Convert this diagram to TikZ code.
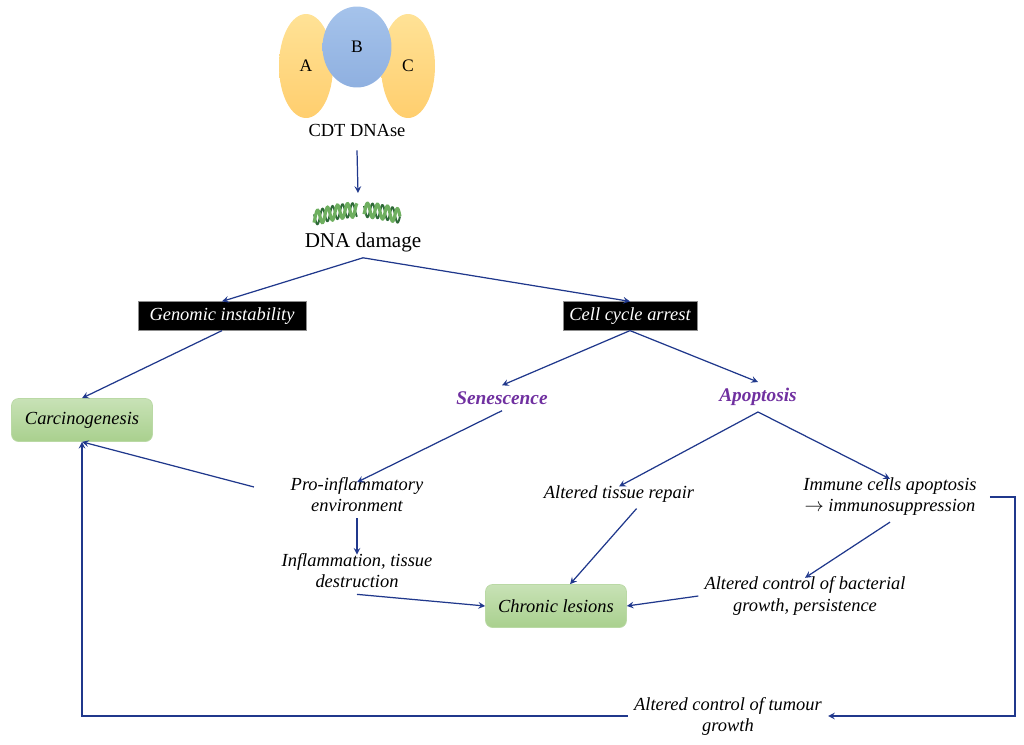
\documentclass[tikz,border=0pt]{standalone}
\usepackage{fontspec}
\setmainfont{Liberation Serif}
\usepackage{tikz}
\usetikzlibrary{arrows,shapes,positioning,shadows}
\usepackage{xcolor}
\definecolor{cdtnavy}{RGB}{32,56,140}
\definecolor{cdtpurple}{RGB}{112,48,160}
\definecolor{cdtgreen}{RGB}{169,208,142}
\definecolor{cdtlightgreen}{RGB}{200,226,182}
\definecolor{cdtorange}{RGB}{255,206,110}
\definecolor{cdtlightorange}{RGB}{255,226,150}
\definecolor{cdtblue}{RGB}{143,176,224}
\definecolor{cdtlightblue}{RGB}{165,195,235}
\definecolor{helixgreen}{RGB}{110,175,95}
\definecolor{helixdark}{RGB}{45,105,55}
\tikzstyle{arrow} = [line width=0.7pt,->,>=stealth,color=cdtnavy]
\tikzstyle{subunit} = [ellipse, top color=cdtlightorange, bottom color=cdtorange, minimum width=1.08cm, minimum height=2.08cm, font=\fontsize{10}{12}\selectfont]
\tikzstyle{blackbox} = [rectangle, minimum height=0.51cm, fill=black, draw=black!45, text=white, font=\fontsize{10.5}{13}\selectfont\itshape]
\tikzstyle{lesionbox} = [rectangle, rounded corners=4pt, minimum width=2.82cm, minimum height=0.86cm, top color=cdtlightgreen, bottom color=cdtgreen, draw=cdtgreen!80!white, font=\fontsize{10.5}{13}\selectfont\itshape]
\tikzstyle{effect} = [align=center, font=\fontsize{10.5}{12}\selectfont\itshape]
\tikzstyle{fate} = [text=cdtpurple, font=\fontsize{11}{13}\selectfont\bfseries\itshape]

\begin{document}
\begin{tikzpicture}[x=0.02cm,y=-0.02cm]
\useasboundingbox (0,0) rectangle (1024,744);

% CDT holotoxin
\node[subunit] (subA) at (306,66) {A};
\node[subunit] (subC) at (408,66) {C};
\node[ellipse, top color=cdtlightblue, bottom color=cdtblue, minimum width=1.38cm, minimum height=1.62cm, font=\fontsize{10}{12}\selectfont] (subB) at (357,47) {B};
\node[font=\fontsize{10.5}{12}\selectfont] (cdt) at (357,130) {CDT DNAse};

% DNA helix
\coordinate (helixtop) at (358,193);
\foreach \xa/\xb in {314/357,364/400}
{
  \draw[helixdark, line width=1.1pt] plot[domain=\xa:\xb, samples=80] (\x, {210+0.004*(\x-360)^2+7*sin((\x-300)*36+180)});
  \draw[helixgreen, line width=1.8pt] plot[domain=\xa:\xb, samples=80] (\x, {210+0.004*(\x-360)^2+7*sin((\x-300)*36)});
}
\node[font=\fontsize{12}{14}\selectfont] (damage) at (363,242) {DNA damage};

% Main branches
\node[blackbox, minimum width=3.36cm] (genomic) at (222,316) {Genomic instability};
\node[blackbox, minimum width=2.68cm] (arrest) at (630,316) {Cell cycle arrest};
\node[lesionbox] (carcino) at (82,420) {Carcinogenesis};
\node[fate] (senes) at (502,398) {Senescence};
\node[fate] (apopt) at (758,397) {Apoptosis};

% Effects
\node[effect] (proinfl) at (357,495) {Pro-inflammatory\\environment};
\node[effect] (inflam) at (357,571) {Inflammation, tissue\\destruction};
\node[effect] (repair) at (619,494) {Altered tissue repair};
\node[effect] (immune) at (890,497) {Immune cells apoptosis\\$\rightarrow$ immunosuppression};
\node[effect] (bacter) at (805,596) {Altered control of bacterial\\growth, persistence};
\node[effect] (tumour) at (728,716) {Altered control of tumour\\growth};
\node[lesionbox] (chronic) at (556,606) {Chronic lesions};
\coordinate (loopx) at (1015,0);

% Connections
\draw[arrow] (cdt.south) ++(0,8) -- (helixtop);
\draw[arrow] (damage.south) -- (genomic.north);
\draw[arrow] (damage.south) -- (arrest.north);
\draw[arrow] (genomic.south) -- (carcino.north);
\draw[arrow] (arrest.south) -- (senes.north);
\draw[arrow] (arrest.south) -- (apopt.north);
\draw[arrow] (senes.south) -- ([yshift=-6]proinfl.north);
\draw[arrow, shorten <=18] (proinfl.west) -- (carcino.south);
\draw[arrow] (proinfl.south) -- ([yshift=-4]inflam.north);
\draw[arrow] (inflam.south) -- (chronic.west);
\draw[arrow] (apopt.south) -- ([yshift=-4]repair.north);
\draw[arrow] (apopt.south) -- ([yshift=-4]immune.north);
\draw[arrow] ([xshift=10]repair.south) -- ([xshift=8]chronic.north);
\draw[arrow] (immune.south) -- ([yshift=-4]bacter.north);
\draw[arrow] (bacter.west) -- (chronic.east);
\draw[arrow] ([xshift=4]immune.east) -- (immune.east -| loopx) |- (tumour.east);
\draw[arrow] (tumour.west) -| (carcino.south);
\end{tikzpicture}
\end{document}
